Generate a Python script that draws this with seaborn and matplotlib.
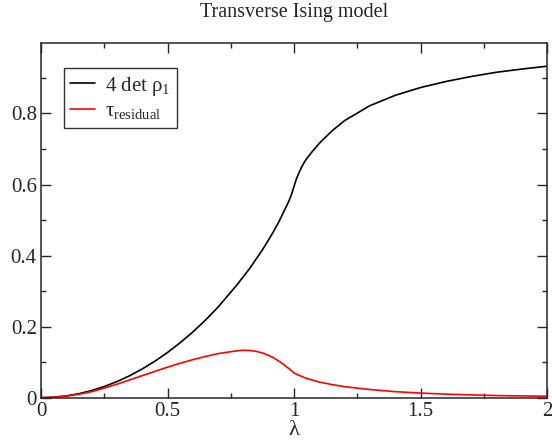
import numpy as np
import pandas as pd
import matplotlib
matplotlib.use("Agg")
import matplotlib.pyplot as plt
from matplotlib.ticker import MultipleLocator
import seaborn as sns

# values
lam = [0.0, 0.05, 0.1, 0.15, 0.2, 0.25, 0.3, 0.35, 0.4, 0.45, 0.5, 0.55, 0.6,
       0.65, 0.7, 0.75, 0.775, 0.8, 0.825, 0.85, 0.875, 0.9, 0.92, 0.94,
       0.96, 0.97, 0.98, 0.99, 1.0, 1.01, 1.02, 1.03, 1.04, 1.05, 1.07, 1.1,
       1.15, 1.2, 1.3, 1.4, 1.5, 1.6, 1.7, 1.8, 1.9, 2.0]
det_rho = [0.0, 0.0013, 0.005, 0.0113, 0.0201, 0.0315, 0.0453, 0.0617, 0.0809,
           0.1027, 0.1272, 0.1547, 0.185, 0.2184, 0.2552, 0.297, 0.318, 0.341,
           0.364, 0.390, 0.416, 0.445, 0.469, 0.495, 0.524, 0.539, 0.554,
           0.572, 0.595, 0.617, 0.634, 0.649, 0.662, 0.673, 0.691, 0.716,
           0.751, 0.780, 0.822, 0.851, 0.873, 0.890, 0.904, 0.916, 0.925, 0.933]
tau_res = [0.0, 0.0012, 0.0045, 0.0098, 0.017, 0.027, 0.038, 0.050, 0.062,
           0.074, 0.086, 0.097, 0.107, 0.116, 0.124, 0.1295, 0.132, 0.1335,
           0.133, 0.1305, 0.126, 0.119, 0.112, 0.103, 0.093, 0.087, 0.082,
           0.076, 0.070, 0.066, 0.063, 0.060, 0.057, 0.0545, 0.050, 0.044,
           0.037, 0.031, 0.023, 0.017, 0.013, 0.010, 0.008, 0.006, 0.005, 0.004]

labels = ["4 det ρ$_{\\rm 1}$", "τ$_{\\rm residual}$"]
colors = ["black", "red"]

df = pd.DataFrame({"lam": lam * 2,
                   "val": det_rho + tau_res,
                   "series": [labels[0]] * len(lam) + [labels[1]] * len(lam)})

sns.set_style("ticks")
plt.rcParams["font.family"] = ["Liberation Serif", "DejaVu Serif"]
plt.rcParams["mathtext.fontset"] = "custom"
plt.rcParams["mathtext.rm"] = "Liberation Serif"
plt.rcParams["mathtext.it"] = "Liberation Serif:italic"

fig = plt.figure(figsize=(5.52, 4.46), dpi=100)
ax = fig.add_axes([0.0743, 0.1083, 0.9167, 0.7942])

sns.lineplot(data=df, x="lam", y="val", hue="series", palette=colors,
             linewidth=1.2, ax=ax, estimator=None, sort=False)

ax.set_xlim(0, 2)
ax.set_ylim(0, 0.997)
ax.xaxis.set_major_locator(MultipleLocator(0.5))
ax.xaxis.set_minor_locator(MultipleLocator(0.25))
ax.yaxis.set_major_locator(MultipleLocator(0.2))
ax.yaxis.set_minor_locator(MultipleLocator(0.1))
ax.xaxis.set_major_formatter(plt.FuncFormatter(lambda v, p: f"{v:g}"))
ax.yaxis.set_major_formatter(plt.FuncFormatter(lambda v, p: f"{v:g}"))
ax.tick_params(which="both", direction="in", top=True, right=True,
               labelsize=15, width=1.0, pad=3)
ax.tick_params(which="major", length=7)
ax.tick_params(which="minor", length=3.5)
for s in ax.spines.values():
    s.set_linewidth(1.1)

ax.set_xlabel("λ", fontsize=16, labelpad=0)
ax.set_ylabel("")
ax.set_title("Transverse Ising model", fontsize=14.5, pad=19)

leg = ax.legend(loc="upper left", bbox_to_anchor=(0.045, 0.93), fontsize=15,
                frameon=True, fancybox=False, edgecolor="black",
                handlelength=1.2, handletextpad=0.5, borderpad=0.3,
                labelspacing=0.2, borderaxespad=0)
leg.get_frame().set_linewidth(1.0)

fig.savefig("out.png", dpi=100)
